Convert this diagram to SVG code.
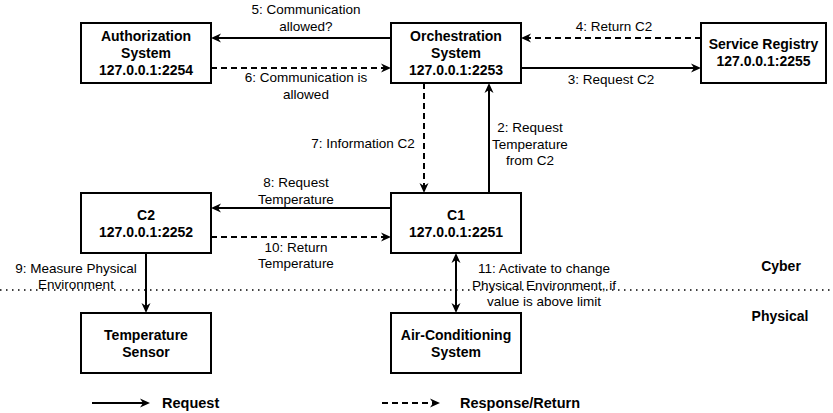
<svg xmlns="http://www.w3.org/2000/svg" width="833" height="413" viewBox="0 0 833 413">
<style>
.box{fill:#fff;stroke:#000;stroke-width:2}
.bt{font-family:"Liberation Sans",Arial,sans-serif;font-size:14px;font-weight:bold;text-anchor:middle;fill:#000}
.lb{font-family:"Liberation Sans",Arial,sans-serif;font-size:13.5px;text-anchor:middle;fill:#000}
.lg{font-family:"Liberation Sans",Arial,sans-serif;font-size:14.5px;font-weight:bold;fill:#000}
.ln{fill:none;stroke:#000;stroke-width:2}
.req{marker-end:url(#ah)}
.resp{stroke-dasharray:6 4;marker-end:url(#ah)}
</style>
<defs>
<marker id="ah" markerUnits="userSpaceOnUse" markerWidth="12" markerHeight="12" refX="7" refY="5" orient="auto">
<path d="M0,0.5 L10,5 L0,9.5 L3,5 Z" fill="#000"/>
</marker>
<marker id="as" markerUnits="userSpaceOnUse" markerWidth="12" markerHeight="12" refX="7" refY="5" orient="auto-start-reverse">
<path d="M0,0.5 L10,5 L0,9.5 L3,5 Z" fill="#000"/>
</marker>
</defs>
<rect width="833" height="413" fill="#fff"/>
<line x1="0" y1="290" x2="833" y2="290" stroke="#000" stroke-width="1.5" stroke-dasharray="1.5 4.5"/>
<g id="connectors">
<line class="ln req" x1="391" y1="38" x2="214" y2="38"/>
<line class="ln resp" x1="211" y1="68" x2="388" y2="68"/>
<line class="ln resp" x1="701" y1="38" x2="524" y2="38"/>
<line class="ln req" x1="521" y1="68" x2="698" y2="68"/>
<line class="ln resp" x1="424" y1="83" x2="424" y2="190"/>
<line class="ln req" x1="489" y1="193" x2="489" y2="86"/>
<line class="ln req" x1="391" y1="208" x2="214" y2="208"/>
<line class="ln resp" x1="211" y1="237" x2="388" y2="237"/>
<line class="ln req" x1="146" y1="253" x2="146" y2="310"/>
<line class="ln" x1="456" y1="256" x2="456" y2="310" marker-start="url(#as)" marker-end="url(#ah)"/>
<line class="ln req" x1="92" y1="403" x2="147" y2="403"/>
<line class="ln resp" x1="382" y1="403" x2="437" y2="403"/>
</g>
<g id="labels">
<text class="lb" x="306" y="14">5: Communication</text>
<text class="lb" x="306" y="31">allowed?</text>
<text class="lb" x="306" y="82">6: Communication is</text>
<text class="lb" x="306" y="99">allowed</text>
<text class="lb" x="614" y="31">4: Return C2</text>
<text class="lb" x="611" y="84">3: Request C2</text>
<text class="lb" x="363" y="148">7: Information C2</text>
<text class="lb" x="530" y="132">2: Request</text>
<text class="lb" x="530" y="148.5">Temperature</text>
<text class="lb" x="530" y="165">from C2</text>
<text class="lb" x="296" y="187">8: Request</text>
<text class="lb" x="296" y="203.5">Temperature</text>
<text class="lb" x="296" y="252">10: Return</text>
<text class="lb" x="296" y="268">Temperature</text>
<text class="lb" x="76" y="273">9: Measure Physical</text>
<text class="lb" x="76" y="289">Environment</text>
<text class="lb" x="544" y="273">11: Activate to change</text>
<text class="lb" x="544" y="289.5">Physical Environment, if</text>
<text class="lb" x="544" y="306">value is above limit</text>
<text class="bt" x="781" y="271">Cyber</text>
<text class="bt" x="780" y="321">Physical</text>
<text class="lg" x="162" y="408">Request</text>
<text class="lg" x="460" y="408">Response/Return</text>
</g>
<g id="authorization">
<rect class="box" x="81" y="23" width="130" height="60"/>
<text class="bt" x="146" y="41">Authorization</text>
<text class="bt" x="146" y="58">System</text>
<text class="bt" x="146" y="75">127.0.0.1:2254</text>
</g>
<g id="orchestration">
<rect class="box" x="391" y="23" width="130" height="60"/>
<text class="bt" x="456" y="41">Orchestration</text>
<text class="bt" x="456" y="58">System</text>
<text class="bt" x="456" y="75">127.0.0.1:2253</text>
</g>
<g id="service-registry">
<rect class="box" x="701" y="23" width="125" height="60"/>
<text class="bt" x="763.5" y="48.5">Service Registry</text>
<text class="bt" x="763.5" y="65.5">127.0.0.1:2255</text>
</g>
<g id="c2">
<rect class="box" x="81" y="193" width="130" height="60"/>
<text class="bt" x="146" y="219.5">C2</text>
<text class="bt" x="146" y="236.5">127.0.0.1:2252</text>
</g>
<g id="c1">
<rect class="box" x="391" y="193" width="130" height="60"/>
<text class="bt" x="456" y="219.5">C1</text>
<text class="bt" x="456" y="236.5">127.0.0.1:2251</text>
</g>
<g id="temperature-sensor">
<rect class="box" x="81" y="313" width="130" height="60"/>
<text class="bt" x="146" y="339.5">Temperature</text>
<text class="bt" x="146" y="356.5">Sensor</text>
</g>
<g id="air-conditioning">
<rect class="box" x="391" y="313" width="130" height="60"/>
<text class="bt" x="456" y="339.5">Air-Conditioning</text>
<text class="bt" x="456" y="356.5">System</text>
</g>
</svg>
